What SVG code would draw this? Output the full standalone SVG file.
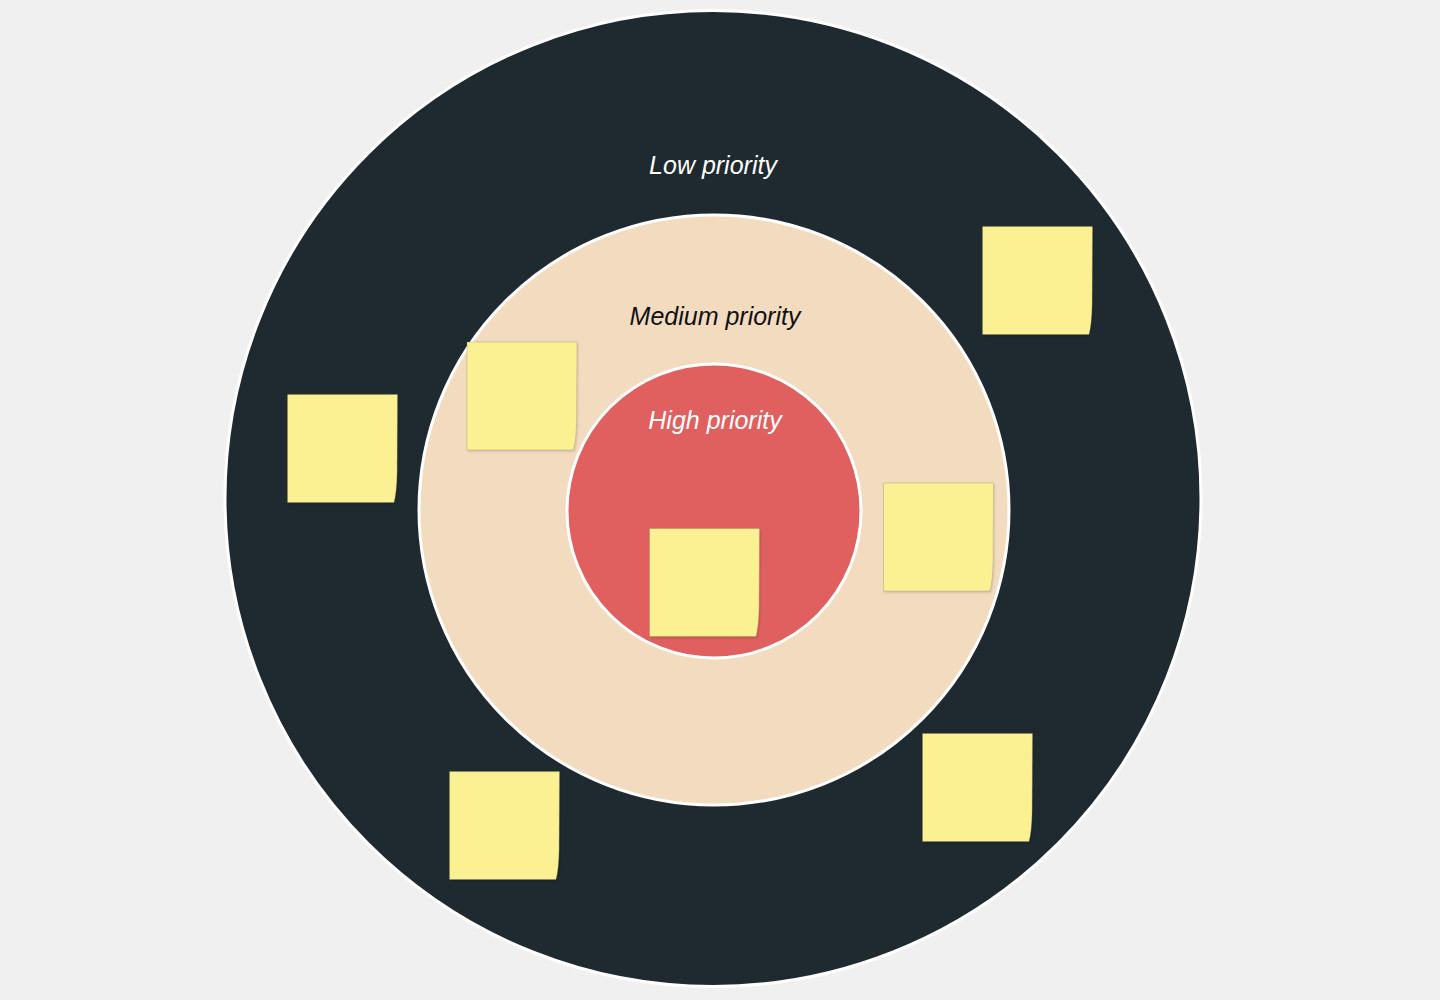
<svg xmlns="http://www.w3.org/2000/svg" width="1440" height="1000" viewBox="0 0 1440 1000">
<defs>
<style>
.ring{stroke:#ffffff;stroke-width:3}
.lbl{font-family:"Liberation Sans","DejaVu Sans",sans-serif;font-style:italic;font-size:25px;text-anchor:middle}
.note{fill:#FBF192;stroke:#7d7a4f;stroke-opacity:0.35;stroke-width:0.8;filter:url(#sh)}
</style>
<filter id="sh" x="-10%" y="-10%" width="125%" height="125%">
<feDropShadow dx="1" dy="1.5" stdDeviation="1.2" flood-color="#000" flood-opacity="0.15"/>
</filter>
<path id="n" d="M0 0 H110 L109.6 78 Q109.2 98 106.5 108 H0 Z"/>
</defs>
<rect width="1440" height="1000" fill="#F0F0F0"/>
<g id="low">
<circle class="ring" cx="713" cy="498.5" r="488" fill="#1E2930"/>
<text class="lbl" x="713" y="174" fill="#ffffff">Low priority</text>
</g>
<g id="medium">
<circle class="ring" cx="714" cy="510" r="295" fill="#F3DBC0"/>
<text class="lbl" x="715" y="325" fill="#111111">Medium priority</text>
</g>
<g id="high">
<circle class="ring" cx="714" cy="511" r="147" fill="#E06060"/>
<text class="lbl" x="715" y="429" fill="#ffffff">High priority</text>
</g>
<g id="connectors"></g>
<g id="note1"><use href="#n" class="note" transform="translate(982.5,226.5)"/></g>
<g id="note2"><use href="#n" class="note" transform="translate(287.5,394.5)"/></g>
<g id="note3"><use href="#n" class="note" transform="translate(467,342)"/></g>
<g id="note4"><use href="#n" class="note" transform="translate(649.5,528.5)"/></g>
<g id="note5"><use href="#n" class="note" transform="translate(883.5,483)"/></g>
<g id="note6"><use href="#n" class="note" transform="translate(449.5,771.5)"/></g>
<g id="note7"><use href="#n" class="note" transform="translate(922.5,733.5)"/></g>
</svg>
